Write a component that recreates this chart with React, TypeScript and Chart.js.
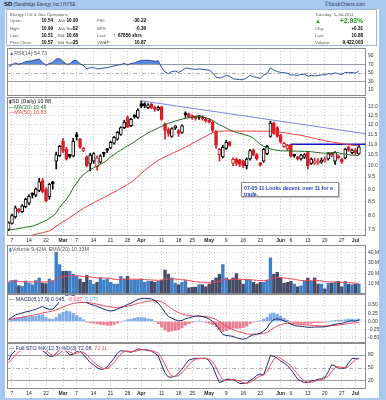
import React, { useEffect, useRef } from 'react';
import { Chart, registerables } from 'chart.js';

Chart.register(...registerables);

const FONT = '"Liberation Sans", Arial, Helvetica, sans-serif';
Chart.defaults.font.family = FONT;
Chart.defaults.font.size = 5;

// ---------------- DATA ----------------
const tickIdx = [1, 6, 11, 16, 20, 25, 30, 35, 39, 45, 50, 54, 59, 64, 69, 74, 80, 83, 88, 93, 98, 102];
const tickLbl = ['7', '14', '22', 'Mar', '7', '14', '21', '28', 'Apr', '11', '18', '25', 'May', '9', '16', '23', 'Jun', '6', '13', '20', '27', 'Jul'];
const monthLbl = ['Mar', 'Apr', 'May', 'Jun', 'Jul'];

const open = [7.52, 7.72, 7.95, 8.22, 8.14, 8.32, 8.45, 8.82, 8.76, 8.95,
  9.35, 9.00, 8.70, 9.28, 10.20, 10.45, 11.15, 10.76, 10.46, 10.43,
  11.45, 11.25, 10.70, 10.40, 10.08, 10.20, 9.95, 10.15, 10.58, 10.75,
  10.82, 11.05, 11.25, 11.50, 11.85, 12.40, 11.95, 12.48, 12.40, 13.20,
  13.18, 12.95, 13.15, 12.98, 12.85, 13.00, 12.05, 11.75, 11.40, 11.84,
  11.70, 11.60, 12.65, 12.60, 12.50, 12.45, 12.45, 12.45, 12.30, 12.25,
  12.15, 11.65, 10.50, 10.40, 10.80, 11.10, 10.10, 10.30, 10.25, 10.20,
  10.00, 10.30, 10.72, 10.50, 10.12, 10.20, 10.55, 11.40, 12.10, 11.85,
  11.45, 10.88, 10.78, 10.98, 10.47, 10.40, 10.30, 10.38, 10.60, 10.10,
  10.10, 10.12, 10.15, 10.20, 10.30, 10.55, 10.20, 10.45, 10.28, 10.35,
  10.85, 10.60, 10.72, 10.54];
const high = [7.78, 8.05, 8.35, 8.26, 8.40, 8.65, 8.78, 8.86, 9.05, 9.45,
  9.45, 9.05, 9.25, 9.32, 10.62, 10.95, 11.30, 10.85, 10.52, 11.30,
  11.60, 11.30, 10.85, 10.45, 10.57, 10.60, 10.45, 10.50, 10.62, 10.80,
  11.15, 11.40, 11.65, 11.90, 12.25, 12.50, 12.35, 12.55, 12.90, 13.35,
  13.25, 13.20, 13.22, 13.05, 13.05, 13.05, 12.10, 11.85, 11.85, 11.95,
  11.75, 12.00, 12.72, 12.65, 12.55, 12.50, 12.50, 12.50, 12.38, 12.35,
  12.20, 11.70, 10.80, 10.95, 11.20, 11.15, 10.35, 10.35, 10.30, 10.25,
  10.35, 10.75, 10.78, 10.55, 10.15, 10.80, 10.95, 12.20, 12.15, 11.90,
  11.50, 11.10, 11.00, 11.00, 10.50, 10.42, 10.52, 10.55, 10.65, 10.35,
  10.35, 10.32, 10.35, 10.40, 10.60, 10.58, 10.65, 10.50, 10.32, 10.80,
  10.90, 10.78, 10.80, 10.99];
const low = [7.48, 7.70, 7.90, 8.10, 8.10, 8.28, 8.40, 8.65, 8.70, 8.90,
  8.85, 8.50, 8.60, 9.00, 9.85, 10.40, 10.60, 10.25, 10.35, 10.40,
  11.20, 10.80, 10.65, 9.95, 9.77, 10.10, 9.80, 10.10, 10.40, 10.60,
  10.78, 11.00, 11.20, 11.45, 11.80, 11.85, 11.90, 12.35, 12.35, 12.95,
  12.95, 12.90, 12.90, 12.75, 12.80, 12.25, 11.25, 11.40, 11.35, 11.75,
  11.40, 11.55, 12.40, 12.40, 12.30, 12.25, 12.30, 12.25, 12.15, 12.10,
  11.60, 10.80, 10.20, 10.35, 10.75, 10.90, 10.00, 10.00, 9.95, 9.90,
  9.85, 10.25, 10.45, 10.25, 9.97, 10.15, 10.50, 11.35, 11.50, 11.35,
  11.05, 10.85, 10.70, 10.40, 10.38, 10.25, 10.25, 10.32, 9.85, 10.05,
  10.05, 10.05, 10.10, 10.15, 10.25, 10.40, 10.05, 10.30, 10.10, 10.30,
  10.65, 10.55, 10.50, 10.51];
const close = [7.74, 8.00, 8.28, 8.15, 8.35, 8.60, 8.72, 8.76, 9.00, 9.30,
  8.90, 8.55, 9.20, 9.22, 10.50, 10.90, 10.67, 10.30, 10.42, 11.15,
  11.38, 10.86, 10.80, 10.00, 10.48, 10.55, 10.35, 10.45, 10.52, 10.70,
  11.10, 11.35, 11.60, 11.85, 12.15, 11.88, 12.30, 12.44, 12.82, 13.05,
  13.08, 13.12, 12.95, 12.85, 12.98, 12.30, 11.70, 11.55, 11.80, 11.86,
  11.55, 11.95, 12.55, 12.45, 12.38, 12.35, 12.40, 12.32, 12.22, 12.15,
  11.70, 10.95, 10.75, 10.85, 11.10, 10.95, 10.28, 10.10, 10.05, 10.00,
  10.30, 10.70, 10.50, 10.30, 10.02, 10.75, 10.90, 12.10, 11.55, 11.40,
  11.10, 11.05, 10.95, 10.42, 10.44, 10.30, 10.48, 10.50, 10.00, 10.30,
  10.22, 10.20, 10.25, 10.24, 10.55, 10.48, 10.60, 10.35, 10.18, 10.75,
  10.70, 10.72, 10.57, 10.88];

const ma20 = [7.50, 7.51, 7.53, 7.55, 7.57, 7.59, 7.61, 7.63, 7.67, 7.72,
  7.77, 7.82, 7.90, 7.98, 8.10, 8.30, 8.45, 8.60, 8.80, 9.05,
  9.25, 9.45, 9.60, 9.72, 9.82, 9.90, 9.98, 10.06, 10.14, 10.25,
  10.40, 10.50, 10.62, 10.72, 10.82, 10.92, 11.02, 11.12, 11.25, 11.36,
  11.46, 11.58, 11.66, 11.74, 11.84, 11.92, 12.00, 12.08, 12.14, 12.20,
  12.26, 12.31, 12.35, 12.38, 12.40, 12.43, 12.45, 12.43, 12.38, 12.32,
  12.24, 12.12, 12.00, 11.92, 11.82, 11.74, 11.66, 11.60, 11.55, 11.50,
  11.45, 11.40, 11.30, 11.15, 11.00, 10.90, 10.83, 10.78, 10.74, 10.71,
  10.69, 10.68, 10.68, 10.67, 10.67, 10.67, 10.66, 10.66, 10.65, 10.64,
  10.62, 10.60, 10.58, 10.57, 10.58, 10.60, 10.61, 10.59, 10.55, 10.52,
  10.50, 10.48, 10.46, 10.46];
const ma50 = [null, null, null, null, null, null, null, 7.33, 7.36, 7.38,
  7.41, 7.44, 7.47, 7.54, 7.62, 7.70, 7.78, 7.85, 7.93, 8.01,
  8.10, 8.18, 8.26, 8.33, 8.40, 8.47, 8.54, 8.60, 8.67, 8.74,
  8.81, 8.88, 8.95, 9.03, 9.11, 9.19, 9.28, 9.40, 9.52, 9.65,
  9.78, 9.90, 10.02, 10.13, 10.24, 10.32, 10.40, 10.47, 10.55, 10.63,
  10.70, 10.78, 10.86, 10.95, 11.04, 11.13, 11.22, 11.32, 11.40, 11.50,
  11.58, 11.64, 11.66, 11.67, 11.67, 11.67, 11.67, 11.67, 11.67, 11.67,
  11.67, 11.67, 11.67, 11.66, 11.66, 11.66, 11.66, 11.66, 11.65, 11.63,
  11.61, 11.59, 11.56, 11.53, 11.50, 11.48, 11.45, 11.41, 11.37, 11.33,
  11.29, 11.25, 11.22, 11.18, 11.15, 11.12, 11.08, 11.06, 11.03, 11.01,
  10.98, 10.96, 10.94, 10.92];

const trendLine = [[38.7, 13.37], [105.1, 11.53]];
const resistStart = 83;
const resistLevel = 11.0;

const rsi = [64, 69, 73, 70, 72, 76, 77, 78, 80, 82,
  74, 67, 72, 74, 82, 83, 76, 70, 71, 78,
  79, 71, 67, 59, 62, 62, 59, 60, 61, 62,
  64, 66, 68, 69, 72, 68, 72, 73, 76, 79,
  79, 79, 78, 77, 78, 62, 52, 48, 53, 54,
  51, 55, 61, 60, 59, 58, 59, 58, 57, 56,
  50, 40, 38, 40, 44, 42, 36, 35, 34, 34,
  38, 44, 41, 39, 37, 45, 48, 62, 56, 53,
  51, 50, 49, 45, 45, 44, 46, 47, 42, 44,
  43, 44, 45, 45, 48, 47, 50, 48, 46, 51,
  50, 51, 49, 54.73];
const rsiUpper = 70;

const volume = [11.3, 13, 13.5, 8, 7.5, 12.5, 10.5, 9, 13, 15.5,
  10.5, 10, 14.5, 13, 41, 28.4, 22, 22, 22, 19,
  17, 14.5, 11.3, 18, 13.5, 9.5, 11.3, 16, 13.5, 14.5,
  11.3, 9.5, 9.5, 17, 14.5, 17, 13.5, 13.5, 13.5, 14.5,
  11.3, 12.3, 12.3, 11.3, 12.3, 13.5, 23.2, 19.2, 15.5, 10.5,
  9, 11.3, 13, 6, 6.5, 6.5, 9, 9, 7, 9.5,
  13, 15.5, 19, 28.5, 15.5, 13.5, 15.5, 19.7, 13.5, 9.5,
  13.5, 13.5, 11.3, 9.5, 11.3, 11.3, 13.5, 35, 19, 21,
  15.5, 10.5, 11.3, 12.3, 9.5, 7, 8, 12.3, 15.5, 12.3,
  15.5, 9.5, 9.5, 5, 10.5, 10.5, 11.3, 12.3, 7, 12.3,
  9.5, 9, 9.5, 9.42];
const volEma = [12.5, 12.4, 12.5, 12.2, 11.8, 11.9, 11.7, 11.5, 11.6, 11.9,
  11.8, 11.6, 11.9, 12.0, 14.8, 16.1, 16.7, 17.2, 17.7, 17.8,
  17.7, 17.4, 16.8, 16.9, 16.6, 15.9, 15.5, 15.6, 15.4, 15.3,
  14.9, 14.4, 13.9, 14.2, 14.2, 14.5, 14.4, 14.3, 14.2, 14.2,
  13.9, 13.7, 13.6, 13.4, 13.3, 13.3, 14.3, 14.8, 14.9, 14.5,
  14.0, 13.7, 13.7, 13.0, 12.4, 11.9, 11.6, 11.4, 11.0, 10.9,
  11.1, 11.5, 12.2, 13.7, 13.9, 13.9, 14.0, 14.5, 14.4, 13.9,
  13.9, 13.9, 13.6, 13.2, 13.1, 12.9, 13.0, 15.1, 15.5, 16.0,
  16.0, 15.5, 15.1, 14.8, 14.3, 13.6, 13.1, 13.0, 13.3, 13.2,
  13.4, 13.0, 12.7, 11.9, 11.8, 11.6, 11.6, 11.7, 11.2, 11.3,
  11.1, 10.8, 10.55, 10.33];

const macd = [0.06, 0.13, 0.20, 0.23, 0.26, 0.29, 0.31, 0.34, 0.37, 0.42,
  0.46, 0.40, 0.37, 0.38, 0.47, 0.63, 0.72, 0.80, 0.82, 0.80,
  0.75, 0.70, 0.63, 0.57, 0.53, 0.50, 0.46, 0.42, 0.38, 0.34,
  0.32, 0.34, 0.38, 0.42, 0.47, 0.52, 0.56, 0.62, 0.67, 0.70,
  0.71, 0.70, 0.69, 0.64, 0.56, 0.43, 0.28, 0.15, 0.10, 0.05,
  0.02, 0.03, 0.08, 0.11, 0.14, 0.16, 0.17, 0.15, 0.12, 0.07,
  0.00, -0.10, -0.25, -0.40, -0.43, -0.44, -0.46, -0.50, -0.53, -0.54,
  -0.52, -0.45, -0.41, -0.39, -0.36, -0.30, -0.20, -0.04, 0.06, 0.08,
  0.06, 0.02, -0.02, -0.08, -0.12, -0.14, -0.15, -0.16, -0.18, -0.18,
  -0.17, -0.17, -0.17, -0.16, -0.14, -0.11, -0.09, -0.07, -0.06, -0.03,
  0.00, 0.02, 0.01, 0.045];
const macdSignal = [0.05, 0.07, 0.09, 0.11, 0.13, 0.15, 0.17, 0.19, 0.21, 0.23,
  0.26, 0.28, 0.30, 0.32, 0.35, 0.40, 0.44, 0.48, 0.52, 0.55,
  0.57, 0.58, 0.58, 0.58, 0.57, 0.55, 0.53, 0.51, 0.48, 0.46,
  0.44, 0.43, 0.43, 0.44, 0.45, 0.47, 0.49, 0.52, 0.55, 0.58,
  0.60, 0.62, 0.63, 0.64, 0.63, 0.60, 0.54, 0.46, 0.39, 0.32,
  0.27, 0.23, 0.20, 0.18, 0.17, 0.16, 0.16, 0.15, 0.15, 0.13,
  0.10, 0.06, 0.00, -0.08, -0.15, -0.20, -0.25, -0.29, -0.32, -0.35,
  -0.38, -0.39, -0.39, -0.39, -0.38, -0.37, -0.33, -0.27, -0.20, -0.14,
  -0.10, -0.07, -0.06, -0.06, -0.07, -0.08, -0.09, -0.10, -0.11, -0.12,
  -0.13, -0.13, -0.14, -0.14, -0.14, -0.13, -0.12, -0.11, -0.10, -0.08,
  -0.07, -0.05, -0.04, -0.027];
const macdHist = [0.01, 0.06, 0.11, 0.12, 0.13, 0.14, 0.14, 0.15, 0.16, 0.19,
  0.20, 0.12, 0.07, 0.06, 0.12, 0.23, 0.28, 0.32, 0.30, 0.25,
  0.18, 0.12, 0.05, -0.01, -0.04, -0.05, -0.07, -0.09, -0.10, -0.12,
  -0.12, -0.09, -0.05, -0.02, 0.02, 0.05, 0.07, 0.10, 0.12, 0.12,
  0.11, 0.08, 0.06, 0.00, -0.07, -0.17, -0.26, -0.31, -0.29, -0.27,
  -0.25, -0.20, -0.12, -0.07, -0.03, 0.00, 0.01, 0.00, -0.03, -0.06,
  -0.10, -0.16, -0.25, -0.32, -0.28, -0.24, -0.21, -0.21, -0.21, -0.19,
  -0.14, -0.06, -0.02, 0.00, 0.02, 0.07, 0.13, 0.23, 0.26, 0.22,
  0.16, 0.09, 0.04, -0.02, -0.05, -0.06, -0.06, -0.06, -0.07, -0.06,
  -0.04, -0.04, -0.03, -0.02, 0.00, 0.02, 0.03, 0.04, 0.04, 0.05,
  0.07, 0.07, 0.05, 0.073];

const stoK = [68, 82, 90, 92, 94, 94, 94, 94, 95, 96,
  90, 84, 77, 76, 84, 92, 94, 88, 80, 82,
  88, 90, 80, 72, 62, 57, 50, 46, 47, 52,
  62, 72, 84, 90, 89, 88, 86, 90, 94, 93,
  92, 90, 89, 84, 78, 57, 38, 28, 28, 30,
  38, 46, 58, 68, 70, 72, 72, 72, 72, 66,
  53, 33, 15, 18, 23, 23, 22, 18, 13, 13,
  14, 20, 25, 32, 35, 33, 55, 79, 77, 72,
  66, 61, 55, 46, 35, 23, 19, 15, 15, 19,
  20, 23, 24, 27, 40, 57, 54, 49, 49, 49,
  62, 72, 71, 72.08];
const stoD = [62, 70, 80, 88, 92, 93, 94, 94, 94, 95,
  94, 90, 84, 79, 79, 84, 90, 91, 87, 83,
  83, 87, 86, 81, 71, 64, 56, 51, 48, 48,
  54, 62, 73, 82, 88, 89, 88, 88, 90, 92,
  93, 92, 90, 88, 84, 73, 58, 41, 31, 29,
  32, 38, 47, 57, 65, 70, 71, 72, 72, 70,
  64, 51, 34, 22, 19, 21, 23, 21, 18, 15,
  13, 16, 20, 26, 31, 33, 41, 56, 70, 76,
  72, 66, 61, 54, 45, 35, 26, 19, 16, 16,
  18, 21, 22, 25, 30, 41, 50, 53, 51, 49,
  53, 61, 68, 72.11];

const priceTicks = [7.5, 8.0, 8.5, 9.0, 9.5, 10.0, 10.5, 11.0, 11.5, 12.0, 12.5, 13.0];
const volTicks = [10, 20, 30, 40];
const macdTicks = [-0.5, -0.25, 0, 0.25, 0.5];
const rsiTicks = [10, 30, 50, 70, 90];
const stoTicks = [20, 50, 80];

// ---------------- HELPERS ----------------
const X_MIN = -0.47;
const X_MAX = 105.1;
const PLOT_LEFT = 7;
const CANVAS_W = 379;
const AXIS_W = 20;

const RED = '#dc1c26';
const BLACK = '#000000';

const candleColor = close.map((c, i) => (i > 0 && c < close[i - 1] ? RED : BLACK));
const bodyFill = close.map((c, i) => (c >= open[i] ? '#ffffff' : candleColor[i]));
const volColor = close.map((c, i) => (i === 0 || c >= close[i - 1] ? '#3f7fc6' : '#454a66'));
const histColor = macdHist.map((v) => (v >= 0 ? '#7aa8e6' : '#ec7c92'));

const pts = (arr: (number | null)[]) => arr.map((v, i) => ({ x: i, y: v }));

const framePlugin = {
  id: 'frame',
  afterDraw(chart: any) {
    const { ctx, chartArea: a } = chart;
    ctx.save();
    ctx.strokeStyle = '#8a8a8a';
    ctx.lineWidth = 1;
    ctx.strokeRect(Math.round(a.left) + 0.5, Math.round(a.top) + 0.5, Math.round(a.right - a.left) - 1, Math.round(a.bottom - a.top) - 1);
    ctx.restore();
  },
};

const refLinesPlugin = {
  id: 'refLines',
  beforeDatasetsDraw(chart: any, _args: any, opts: any) {
    const lines = (opts && opts.lines) || [];
    const y = chart.scales.y;
    const a = chart.chartArea;
    const ctx = chart.ctx;
    lines.forEach((l: any) => {
      const py = Math.round(y.getPixelForValue(l.v)) + 0.5;
      ctx.save();
      ctx.strokeStyle = l.color;
      ctx.lineWidth = 1;
      ctx.setLineDash(l.dash || []);
      ctx.beginPath();
      ctx.moveTo(a.left, py);
      ctx.lineTo(a.right, py);
      ctx.stroke();
      ctx.restore();
    });
  },
};

function xAxis(show: boolean) {
  return {
    type: 'linear',
    min: X_MIN,
    max: X_MAX,
    offset: false,
    afterBuildTicks: (s: any) => { s.ticks = tickIdx.map((v) => ({ value: v })); },
    afterFit: (s: any) => { s.height = show ? 9 : 0; s.paddingLeft = 0; s.paddingRight = 0; },
    grid: { color: '#cdcdcd', lineWidth: 1, drawTicks: false, offset: false },
    border: { display: false, dash: [1, 2] },
    ticks: {
      display: show,
      autoSkip: false,
      maxRotation: 0,
      padding: 2,
      color: '#222',
      callback: (v: any) => tickLbl[tickIdx.indexOf(Number(v))] ?? '',
      font: (ctx: any) => {
        const lbl = tickLbl[tickIdx.indexOf(ctx.tick ? ctx.tick.value : -1)];
        return { size: 5, weight: monthLbl.includes(lbl) ? 'bold' : 'normal' };
      },
    },
  };
}

function yAxis(o: { type?: string; min: number; max: number; ticks: number[]; fmt: (v: number) => string; grid?: boolean }) {
  return {
    type: o.type || 'linear',
    position: 'right',
    min: o.min,
    max: o.max,
    afterBuildTicks: (s: any) => { s.ticks = o.ticks.map((v) => ({ value: v })); },
    afterFit: (s: any) => { s.width = AXIS_W; s.paddingTop = 0; s.paddingBottom = 0; },
    grid: { display: o.grid !== false, color: '#d2d2d2', lineWidth: 1, drawTicks: false },
    border: { display: false, dash: [1, 2] },
    ticks: { padding: 2, color: '#333', font: { size: 5 }, callback: (v: any) => o.fmt(Number(v)) },
  };
}

function baseOptions(y: any, showX: boolean, extraPlugins: any = {}) {
  return {
    responsive: false,
    animation: false,
    events: [],
    layout: { padding: 0 },
    plugins: { legend: { display: false }, tooltip: { enabled: false }, ...extraPlugins },
    scales: { x: xAxis(showX), y },
  };
}

const lineDs = (data: any[], color: string, width = 1, extra: any = {}) => ({
  type: 'line',
  data,
  borderColor: color,
  borderWidth: width,
  pointRadius: 0,
  tension: 0,
  fill: false,
  ...extra,
});

// ---------------- CONFIGS ----------------
const rsiConfig = () => ({
  type: 'line',
  data: {
    datasets: [
      lineDs(pts(rsi), '#2c4f9e', 1, {
        fill: { target: 1, above: '#5a8ada', below: 'rgba(0,0,0,0)' },
        backgroundColor: '#5a8ada',
      }),
      lineDs(rsi.map((_, i) => ({ x: i, y: rsiUpper })), 'rgba(0,0,0,0)', 0),
    ],
  },
  options: baseOptions(
    yAxis({ min: -4, max: 107.7, ticks: rsiTicks, fmt: (v) => String(v), grid: false }),
    false,
    {
      refLines: { lines: [{ v: 70, color: '#9c9c9c' }, { v: 50, color: '#b0b0b0', dash: [4, 2, 1, 2] }, { v: 30, color: '#9c9c9c' }] },
    },
  ),
  plugins: [refLinesPlugin, framePlugin],
});

const priceConfig = () => ({
  type: 'bar',
  data: {
    datasets: [
      lineDs(pts(ma20), '#1d6a1d', 1, { order: 0 }),
      lineDs(pts(ma50), '#f23a3a', 1, { order: 0, spanGaps: false }),
      lineDs(trendLine.map(([x, y]) => ({ x, y })), '#7c80e8', 1, { order: 0 }),
      lineDs([{ x: resistStart, y: resistLevel }, { x: X_MAX, y: resistLevel }], '#1010c8', 1.4, { order: 0 }),
      {
        type: 'bar',
        data: low.map((l, i) => ({ x: i, y: [l, high[i]] })),
        backgroundColor: candleColor,
        barThickness: 1,
        grouped: false,
        order: 2,
      },
      {
        type: 'bar',
        data: open.map((o, i) => ({ x: i, y: [Math.min(o, close[i]), Math.max(o, close[i])] })),
        backgroundColor: bodyFill,
        borderColor: candleColor,
        borderWidth: 1,
        borderSkipped: false,
        barThickness: 3,
        minBarLength: 2,
        grouped: false,
        order: 1,
      },
    ],
  },
  options: baseOptions(
    yAxis({ type: 'logarithmic', min: 7.33, max: 13.59, ticks: priceTicks, fmt: (v) => v.toFixed(1) }),
    true,
  ),
  plugins: [framePlugin],
});

const volumeConfig = () => ({
  type: 'bar',
  data: {
    datasets: [
      lineDs(pts(volEma), '#ee4456', 1, { order: 0 }),
      {
        type: 'bar',
        data: pts(volume),
        backgroundColor: volColor,
        barThickness: 2.7,
        grouped: false,
        order: 1,
      },
    ],
  },
  options: baseOptions(yAxis({ min: 0, max: 47.4, ticks: volTicks, fmt: (v) => `${v} M` }), false),
  plugins: [framePlugin],
});

const macdConfig = () => ({
  type: 'bar',
  data: {
    datasets: [
      lineDs(pts(macd), '#1c2a70', 1, { order: 0 }),
      lineDs(pts(macdSignal), '#f04a5c', 1, { order: 0 }),
      {
        type: 'bar',
        data: pts(macdHist),
        backgroundColor: histColor,
        barThickness: 2.4,
        grouped: false,
        order: 1,
      },
    ],
  },
  options: baseOptions(yAxis({ min: -0.66, max: 0.84, ticks: macdTicks, fmt: (v) => v.toFixed(2) }), false),
  plugins: [framePlugin],
});

const stoConfig = () => ({
  type: 'line',
  data: {
    datasets: [
      lineDs(pts(stoD), '#f04a5c', 1),
      lineDs(pts(stoK), '#1c2a70', 1),
    ],
  },
  options: baseOptions(
    yAxis({ min: 0, max: 108, ticks: stoTicks, fmt: (v) => String(v), grid: false }),
    true,
    { refLines: { lines: [{ v: 80, color: '#9c9c9c' }, { v: 50, color: '#b0b0b0', dash: [4, 2, 1, 2] }, { v: 20, color: '#9c9c9c' }] } },
  ),
  plugins: [refLinesPlugin, framePlugin],
});

// ---------------- COMPONENTS ----------------
function ChartBox({ top, height, make }: { top: number; height: number; make: () => any }) {
  const ref = useRef<HTMLCanvasElement>(null);
  useEffect(() => {
    const c = new Chart(ref.current as HTMLCanvasElement, make() as any);
    return () => c.destroy();
  }, []);
  return (
    <canvas
      ref={ref}
      width={CANVAS_W}
      height={height}
      style={{ position: 'absolute', left: PLOT_LEFT, top, width: CANVAS_W, height }}
    />
  );
}

type TP = { x: number; y: number; s?: number; b?: boolean; c?: string; r?: boolean; bg?: boolean; children: React.ReactNode };
function T({ x, y, s = 4.3, b = false, c = '#555', r = false, bg = false, children }: TP) {
  const st: React.CSSProperties = {
    position: 'absolute',
    top: y,
    fontSize: s,
    lineHeight: `${s + 1}px`,
    fontWeight: b ? 'bold' : 'normal',
    color: c,
    whiteSpace: 'nowrap',
    zIndex: 3,
  };
  if (bg) { st.background = 'rgba(255,255,255,0.9)'; st.paddingRight = 1; }
  if (r) st.right = 386 - x; else st.left = x;
  return <span style={st}>{children}</span>;
}

export default function App() {
  const V = '#000';
  const G = '#1a9a1a';
  const VS = 4.6;
  return (
    <div style={{ position: 'absolute', left: 0, top: 0, width: 386, height: 400, background: '#a6c8f1', overflow: 'hidden', fontFamily: FONT }}>
      {/* title */}
      <T x={4} y={1} s={6} b c="#111">SD</T>
      <T x={13.5} y={2} s={4.5} c="#333">(Sandridge Energy, Inc.) NYSE</T>
      <T x={365} y={2} s={4.8} c="#335" r>©StockCharts.com</T>

      {/* white area */}
      <div style={{ position: 'absolute', left: 5, top: 9, width: 374, height: 389, background: '#fff' }} />
      <div style={{ position: 'absolute', left: 6, top: 9, width: 371, height: 37, border: '1px solid #9db4cc', boxSizing: 'border-box' }} />

      {/* quote box */}
      <T x={10} y={11.5}>Energy / Oil &amp; Gas Operations</T>
      <T x={315} y={11.5}>Tuesday&nbsp;&nbsp;5-Jul-2011</T>

      <T x={10} y={18}>Open:</T><T x={53} y={18} s={VS} b c={V} r>10.54</T>
      <T x={58} y={18}>Ask:</T><T x={78} y={18} s={VS} b c={V} r>10.90</T>
      <T x={97} y={18}>P/E:</T><T x={146} y={18} s={VS} b c={V} r>-30.22</T>
      <T x={315} y={18} s={6} c={G}>▲</T><T x={363} y={17} s={6.8} b c={G} r>+2.93%</T>

      <T x={10} y={25.5}>High:</T><T x={53} y={25.5} s={VS} b c={V} r>10.99</T>
      <T x={58} y={25.5}>Ask Size:</T><T x={78} y={25.5} s={VS} b c={V} r>52</T>
      <T x={97} y={25.5}>EPS:</T><T x={146} y={25.5} s={VS} b c={V} r>-0.36</T>
      <T x={315} y={25.5}>Chg:</T><T x={363} y={25.5} s={VS} b c={V} r>+0.31</T>

      <T x={10} y={32.5}>Low:</T><T x={53} y={32.5} s={VS} b c={V} r>10.51</T>
      <T x={58} y={32.5}>Bid:</T><T x={78} y={32.5} s={VS} b c={V} r>10.68</T>
      <T x={97} y={32.5}>Last:</T><T x={113} y={31.5} s={6} b c={G}>↑</T><T x={118} y={32.5} s={VS} b c={V}>67856 shrs</T>
      <T x={315} y={32.5}>Last:</T><T x={363} y={32.5} s={VS} b c={V} r>10.88</T>

      <T x={10} y={39.5}>Prev Close:</T><T x={53} y={39.5} s={VS} b c={V} r>10.57</T>
      <T x={58} y={39.5}>Bid Size:</T><T x={78} y={39.5} s={VS} b c={V} r>25</T>
      <T x={97} y={39.5}>VWAP:</T><T x={146} y={39.5} s={VS} b c={V} r>10.87</T>
      <T x={315} y={39.5}>Volume:</T><T x={363} y={39.5} s={VS} b c={V} r>9,422,003</T>

      {/* charts */}
      <ChartBox top={48} height={48} make={rsiConfig} />
      <ChartBox top={97} height={148} make={priceConfig} />
      <ChartBox top={245} height={49} make={volumeConfig} />
      <ChartBox top={294} height={49} make={macdConfig} />
      <ChartBox top={343} height={55} make={stoConfig} />

      {/* panel legends */}
      <T x={9} y={49.5} s={5.3} c="#555" bg><span style={{ color: '#3a66c0' }}>▲</span>RSI(14) 54.73</T>

      <T x={9} y={98} s={5.3} c="#111" bg><span style={{ color: '#333' }}>▮</span>SD (Daily) 10.88</T>
      <T x={9} y={103.5} s={5.3} c="#1d6a1d" bg>—MA(20) 10.46</T>
      <T x={9} y={109} s={5.3} c="#f23a3a" bg>—MA(50) 10.83</T>

      <T x={9} y={246} s={5.3} c="#555" bg><span style={{ color: '#3f7fc6' }}>▮</span>Volume 9.42M, EMA(20) 10.33M</T>
      <T x={9} y={295.5} s={5.3} bg>
        <span style={{ color: '#1c2a70' }}>— MACD(8,17,9) 0.045, </span>
        <span style={{ color: '#f04a5c' }}>-0.027, </span>
        <span style={{ color: '#7aa8e6' }}>0.073</span>
      </T>
      <T x={9} y={344.5} s={5.3} bg>
        <span style={{ color: '#1c2a70' }}>— Full STO %K(12,3) %D(3) 72.08, </span>
        <span style={{ color: '#f04a5c' }}>72.11</span>
      </T>

      {/* annotation */}
      <div style={{
        position: 'absolute', left: 241, top: 182, width: 98, height: 15, boxSizing: 'border-box',
        background: '#fff', border: '1px solid #8c8c8c', padding: '1.5px 2px', zIndex: 4,
        color: '#1f3fc4', fontWeight: 'bold', fontSize: 5.2, lineHeight: '6px', whiteSpace: 'nowrap',
        boxShadow: '1px 1px 0 #c8c8c8',
      }}>
        07-05-11 Looks decent. over 11 for a<br />trade.
      </div>
    </div>
  );
}
